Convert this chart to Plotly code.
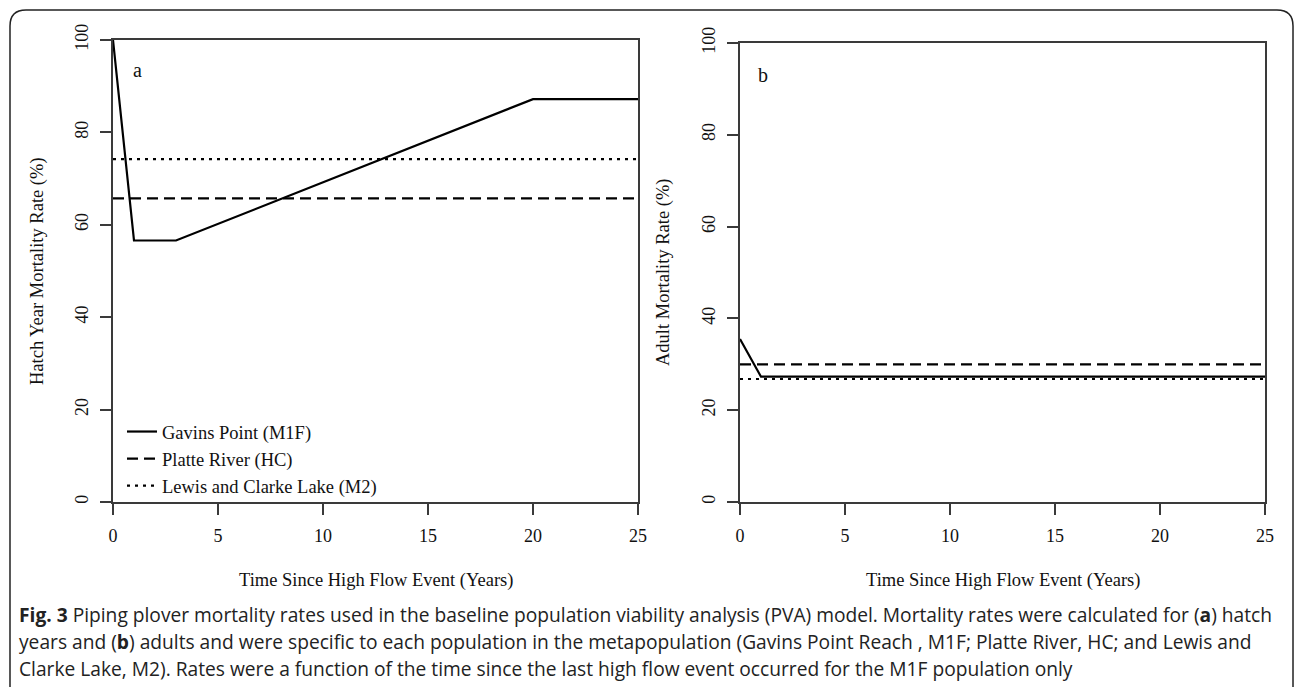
import plotly.graph_objects as go

W, H = 1295, 687

# ---- data ----
years_gp_hatch = [0, 1, 3, 20, 25]
hatch_gp = [100, 56.6, 56.6, 87.2, 87.2]
years_const = [0, 25]
hatch_platte = [65.7, 65.7]
hatch_lewis = [74.2, 74.2]

years_gp_adult = [0, 1, 25]
adult_gp = [35.5, 27.3, 27.3]
adult_platte = [30.0, 30.0]
adult_lewis = [26.8, 26.8]

series_names = ["Gavins Point (M1F)", "Platte River (HC)", "Lewis and Clarke Lake (M2)"]
x_ticks = [0, 5, 10, 15, 20, 25]
y_ticks = [0, 20, 40, 60, 80, 100]

SERIF = "Liberation Serif, Times New Roman, serif"
DASH = "11px,6px"
DOT = "3px,5px"
LW = 2.2

def px_x(p):
    return p / W

def px_y(p):
    return 1 - p / H

fig = go.Figure()

# panel a
fig.add_trace(go.Scatter(x=years_gp_hatch, y=hatch_gp, mode="lines", name=series_names[0],
                         line=dict(color="black", width=LW), xaxis="x", yaxis="y"))
fig.add_trace(go.Scatter(x=years_const, y=hatch_platte, mode="lines", name=series_names[1],
                         line=dict(color="black", width=LW, dash=DASH), xaxis="x", yaxis="y"))
fig.add_trace(go.Scatter(x=years_const, y=hatch_lewis, mode="lines", name=series_names[2],
                         line=dict(color="black", width=LW, dash=DOT), xaxis="x", yaxis="y"))
# panel b
fig.add_trace(go.Scatter(x=years_gp_adult, y=adult_gp, mode="lines", name=series_names[0], showlegend=False,
                         line=dict(color="black", width=LW), xaxis="x2", yaxis="y2"))
fig.add_trace(go.Scatter(x=years_const, y=adult_platte, mode="lines", name=series_names[1], showlegend=False,
                         line=dict(color="black", width=LW, dash=DASH), xaxis="x2", yaxis="y2"))
fig.add_trace(go.Scatter(x=years_const, y=adult_lewis, mode="lines", name=series_names[2], showlegend=False,
                         line=dict(color="black", width=LW, dash=DOT), xaxis="x2", yaxis="y2"))

axis_common = dict(showgrid=False, zeroline=False, showline=True, mirror=True, automargin=False,
                   linecolor="#3a3a3a", linewidth=1.5, ticks="outside", ticklen=11,
                   tickwidth=1.5, tickcolor="#3a3a3a",
                   tickfont=dict(family=SERIF, size=18, color="#111"))

xa = dict(axis_common, range=[0, 25], tickvals=x_ticks, ticklabelstandoff=6)
ya = dict(axis_common, range=[0, 100], tickvals=y_ticks, tickangle=-90, ticklabelstandoff=5)

fig.update_layout(
    template="none",
    width=W, height=H,
    margin=dict(l=0, r=0, t=0, b=0, pad=0, autoexpand=False),
    paper_bgcolor="white", plot_bgcolor="white",
    xaxis=dict(xa, domain=[px_x(113), px_x(638)], anchor="y"),
    yaxis=dict(ya, domain=[px_y(502), px_y(40)], anchor="x"),
    xaxis2=dict(xa, domain=[px_x(740), px_x(1265)], anchor="y2"),
    yaxis2=dict(ya, domain=[px_y(502), px_y(43)], anchor="x2"),
    showlegend=True,
    legend=dict(x=px_x(122), y=px_y(413), xanchor="left", yanchor="top",
                bgcolor="rgba(0,0,0,0)", borderwidth=0,
                font=dict(family=SERIF, size=18.5, color="#111"),
                tracegroupgap=0, itemwidth=30),
)

ann = []
# panel letters
ann.append(dict(x=1.15, y=93.5, xref="x", yref="y", text="a", showarrow=False,
                xanchor="center", yanchor="middle", font=dict(family=SERIF, size=20, color="#111")))
ann.append(dict(x=1.1, y=93.0, xref="x2", yref="y2", text="b", showarrow=False,
                xanchor="center", yanchor="middle", font=dict(family=SERIF, size=20, color="#111")))
# axis titles
TFONT = dict(family=SERIF, size=18.5, color="#111")
ann.append(dict(x=px_x(376), y=px_y(580), xref="paper", yref="paper", text="Time Since High Flow Event (Years)",
                xanchor="center", yanchor="middle", showarrow=False, font=TFONT))
ann.append(dict(x=px_x(1003), y=px_y(580), xref="paper", yref="paper", text="Time Since High Flow Event (Years)",
                xanchor="center", yanchor="middle", showarrow=False, font=TFONT))
ann.append(dict(x=px_x(37), y=px_y(271), xref="paper", yref="paper", text="Hatch Year Mortality Rate (%)",
                xanchor="center", yanchor="middle", textangle=-90, showarrow=False, font=TFONT))
ann.append(dict(x=px_x(663), y=px_y(272), xref="paper", yref="paper", text="Adult Mortality Rate (%)",
                xanchor="center", yanchor="middle", textangle=-90, showarrow=False, font=TFONT))

# caption
CAP = "Open Sans, sans-serif"
cap_lines = [
    "<b>Fig. 3</b> Piping plover mortality rates used in the baseline population viability analysis (PVA) model. Mortality rates were calculated for (<b>a</b>) hatch",
    "years and (<b>b</b>) adults and were specific to each population in the metapopulation (Gavins Point Reach , M1F; Platte River, HC; and Lewis and",
    "Clarke Lake, M2). Rates were a function of the time since the last high flow event occurred for the M1F population only",
]
for i, (line, yy) in enumerate(zip(cap_lines, [614, 641, 668])):
    ann.append(dict(x=px_x(17), y=px_y(yy), xref="paper", yref="paper", text=line, xanchor="left",
                    yanchor="middle", showarrow=False, font=dict(family=CAP, size=19.2, color="#222")))

fig.update_layout(annotations=ann)

# outer rounded frame
x0, y0, x1, y1, r = 10, 10, 1293, 720, 16
def P(px, py):
    return f"{px_x(px):.5f},{px_y(py):.5f}"
path = (f"M {P(x0 + r, y0)} L {P(x1 - r, y0)} Q {P(x1, y0)} {P(x1, y0 + r)} "
        f"L {P(x1, y1 - r)} Q {P(x1, y1)} {P(x1 - r, y1)} L {P(x0 + r, y1)} "
        f"Q {P(x0, y1)} {P(x0, y1 - r)} L {P(x0, y0 + r)} Q {P(x0, y0)} {P(x0 + r, y0)} Z")
fig.add_shape(type="path", path=path, xref="paper", yref="paper",
              line=dict(color="#222", width=1.5), layer="above")

fig.write_html("out.html")
